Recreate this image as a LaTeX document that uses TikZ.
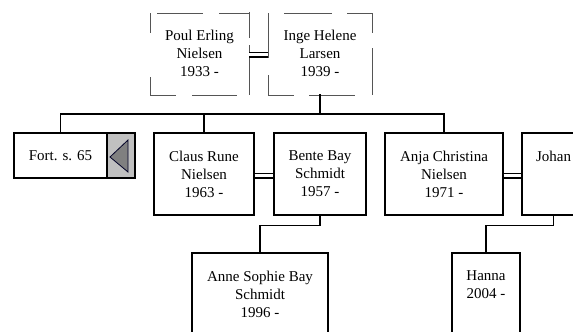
\documentclass[tikz,border=0pt]{standalone}
\usepackage{fontspec}
\setmainfont{Liberation Serif}
\definecolor{btngray}{HTML}{C0C0C0}
\definecolor{trigray}{HTML}{808080}
\definecolor{dashgray}{HTML}{555555}
\begin{document}
\begin{tikzpicture}[x=1bp,y=-1bp,
  txt/.style={align=center, inner sep=0pt, font=\fontsize{15bp}{18bp}\selectfont},
  person/.style={txt, draw=black, line width=1.4bp, minimum height=82bp},
  dashedge/.style={draw=dashgray, line width=1bp},
  link/.style={draw=black, line width=1.4bp},
  marriage/.style={draw=black, line width=1.3bp, double=white, double distance=3.4bp}]
\path[use as bounding box, clip] (0,0) rectangle (573,331);

% parents (dashed boxes)
\node[txt, minimum width=99bp, minimum height=81bp] (poul) at (199.5,53.5) {Poul Erling\\Nielsen\\1933 -};
\node[txt, minimum width=104bp, minimum height=81bp] (inge) at (320,53.5) {Inge Helene\\Larsen\\1939 -};
% dashed borders of Poul
\path[dashedge] (157,13) -- (203,13) (219,13) -- (249,13)
  (150,13) -- (150,33) (150,77) -- (150,95)
  (249,12) -- (249,38) (249,45) -- (249,95)
  (150,95) -- (176,95) (192,95) -- (237,95);
% dashed borders of Inge
\path[dashedge] (284,13) -- (332,13) (347,13) -- (372,13)
  (268,13) -- (268,58) (268,75) -- (268,95)
  (372,13) -- (372,33) (372,48) -- (372,95)
  (268,95) -- (294,95) (309,95) -- (355,95);

% children row
\node[txt, draw=black, line width=1.4bp, minimum width=93bp, minimum height=45bp] (fort) at (60.5,155.5) {Fort. s. 65};
\node[draw=black, line width=1.4bp, fill=btngray, minimum width=28bp, minimum height=45bp, inner sep=0pt] (fortbtn) at (121,155.5) {};
\path[draw=black!85!blue, fill=trigray, line width=0.8bp] (110,157) -- (128,140) -- (128,172) -- cycle;

\node[person, minimum width=100bp] (claus) at (204,174) {Claus Rune\\Nielsen\\1963 -};
\node[person, minimum width=92bp] (bente) at (320,174) {Bente Bay\\Schmidt\\1957 -};
\node[person, minimum width=118bp] (anja) at (444,174) {Anja Christina\\Nielsen\\1971 -};
\node[person, minimum width=63bp] (johan) at (553.5,174) {Johan\\~\\~};

% grandchildren
\node[person, minimum width=136bp] (anne) at (260,294) {Anne Sophie Bay\\Schmidt\\1996 -};
\node[person, minimum width=68bp] (hanna) at (486,294) {Hanna\\2004 -\\~};

% connectors
\coordinate (bar) at (0,114);
\path[link] (fort.north) -- (fort.north |- bar) -- (anja.north |- bar) -- (anja.north);
\path[link] (claus.north) -- (claus.north |- bar);
\path[link] (inge.south) -- (inge.south |- bar);
\path[link] (bente.south) -- ++(0,10) -| (anne.north);
\path[link] (johan.south) -- ++(0,10) -| (hanna.north);

% marriages
\path[marriage] ([yshift=-1pt]poul.east) -- ([yshift=-1pt]inge.west);
\path[marriage] ([yshift=-1.5pt]claus.east) -- ([yshift=-1.5pt]bente.west);
\path[marriage] ([yshift=-1.5pt]anja.east) -- ([yshift=-1.5pt]johan.west);
\end{tikzpicture}
\end{document}
